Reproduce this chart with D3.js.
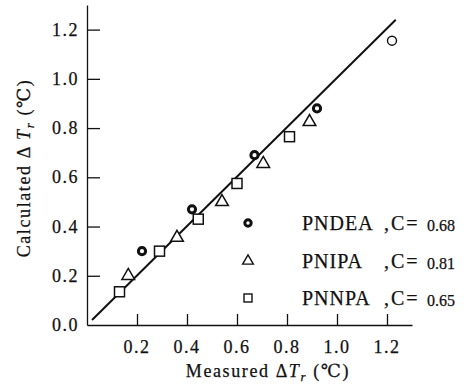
<!DOCTYPE html>
<html>
<head>
<meta charset="utf-8">
<script src="https://cdn.jsdelivr.net/npm/d3@7"></script>
<style>
  body { margin: 0; background: #fff; }
  text { font-family: "Liberation Serif", "DejaVu Serif", serif; fill: #111; stroke: #111; stroke-width: 0.25; }
</style>
</head>
<body>
<script>
// data
const pndeaX = [0.22, 0.42, 0.67, 0.92];
const pndeaY = [0.30, 0.47, 0.69, 0.88];
const pnipaX = [0.165, 0.36, 0.54, 0.705, 0.89];
const pnipaY = [0.20, 0.355, 0.50, 0.655, 0.825];
const pnnpaX = [0.13, 0.29, 0.445, 0.60, 0.81];
const pnnpaY = [0.135, 0.30, 0.43, 0.575, 0.765];
const openX = [1.22];
const openY = [1.155];
const lineX = [0.02, 1.235];
const lineY = [0.02, 1.24];
const xTicks = [0.2, 0.4, 0.6, 0.8, 1.0, 1.2];
const yTicks = [0.0, 0.2, 0.4, 0.6, 0.8, 1.0, 1.2];
const legendNames = ["PNDEA", "PNIPA", "PNNPA"];
const legendC = ["0.68", "0.81", "0.65"];

const svg = d3.select("body").append("svg")
    .attr("width", 470)
    .attr("height", 391);

const x = d3.scaleLinear().domain([0, 1.3]).range([87, 412]);
const y = d3.scaleLinear().domain([0, 1.3]).range([325, 5]);

// eixos
svg.append("g")
    .attr("transform", "translate(0,325)")
    .call(d3.axisTop(x).tickValues(xTicks).tickSizeInner(11).tickSizeOuter(0).tickFormat(""));
svg.append("g")
    .attr("transform", "translate(87,0)")
    .call(d3.axisRight(y).tickValues(yTicks.slice(1)).tickSizeInner(13).tickSizeOuter(0).tickFormat(""));
svg.selectAll(".domain, .tick line")
    .attr("stroke", "#111")
    .attr("stroke-width", 1.3);

// tick labels
svg.append("g").selectAll("text")
    .data(xTicks)
    .join("text")
    .attr("x", d => x(d))
    .attr("y", 353)
    .attr("text-anchor", "middle")
    .attr("font-size", 18)
    .attr("letter-spacing", 1.5)
    .text(d => d.toFixed(1));

svg.append("g").selectAll("text")
    .data(yTicks)
    .join("text")
    .attr("x", 79)
    .attr("y", d => y(d) + 6)
    .attr("text-anchor", "end")
    .attr("font-size", 18)
    .attr("letter-spacing", 1.5)
    .text(d => d.toFixed(1));

// titulos
const xt = svg.append("text")
    .attr("x", 268)
    .attr("y", 377)
    .attr("text-anchor", "middle")
    .attr("font-size", 18)
    .attr("letter-spacing", 1.6);
xt.append("tspan").text("Measured \u0394");
xt.append("tspan").attr("font-style", "italic").text("T");
xt.append("tspan").attr("font-size", 13).attr("font-style", "italic").attr("dy", 4).text("r");
xt.append("tspan").attr("dy", -4).text(" (\u2103)");

const yt = svg.append("text")
    .attr("transform", "translate(30,168) rotate(-90)")
    .attr("text-anchor", "middle")
    .attr("font-size", 18)
    .attr("letter-spacing", 1.6);
yt.append("tspan").text("Calculated \u0394 ");
yt.append("tspan").attr("font-style", "italic").text("T");
yt.append("tspan").attr("font-size", 13).attr("font-style", "italic").attr("dy", 4).text("r");
yt.append("tspan").attr("dy", -4).text(" (\u2103)");

// reta
svg.append("line")
    .attr("x1", x(lineX[0])).attr("y1", y(lineY[0]))
    .attr("x2", x(lineX[1])).attr("y2", y(lineY[1]))
    .attr("stroke", "#111")
    .attr("stroke-width", 2);

// pontos
const tri = d3.symbol().type(d3.symbolTriangle).size(70);

svg.append("g").selectAll("circle")
    .data(d3.range(pndeaX.length))
    .join("circle")
    .attr("cx", i => x(pndeaX[i]))
    .attr("cy", i => y(pndeaY[i]))
    .attr("r", 3.6)
    .attr("fill", "#fff")
    .attr("stroke", "#111")
    .attr("stroke-width", 3);

svg.append("g").selectAll("path")
    .data(d3.range(pnipaX.length))
    .join("path")
    .attr("d", tri)
    .attr("transform", i => `translate(${x(pnipaX[i])},${y(pnipaY[i])})`)
    .attr("fill", "#fff")
    .attr("stroke", "#111")
    .attr("stroke-width", 1.5);

svg.append("g").selectAll("rect")
    .data(d3.range(pnnpaX.length))
    .join("rect")
    .attr("x", i => x(pnnpaX[i]) - 5)
    .attr("y", i => y(pnnpaY[i]) - 5)
    .attr("width", 10)
    .attr("height", 10)
    .attr("fill", "#fff")
    .attr("stroke", "#111")
    .attr("stroke-width", 1.5);

svg.append("g").selectAll("circle")
    .data(d3.range(openX.length))
    .join("circle")
    .attr("cx", i => x(openX[i]))
    .attr("cy", i => y(openY[i]))
    .attr("r", 4.5)
    .attr("fill", "none")
    .attr("stroke", "#111")
    .attr("stroke-width", 1.4);

// legenda
const rows = [223, 261, 298];
const lg = svg.append("g");
lg.append("circle").attr("cx", 248).attr("cy", rows[0]).attr("r", 3.2)
    .attr("fill", "#fff").attr("stroke", "#111").attr("stroke-width", 3);
lg.append("path").attr("d", d3.symbol().type(d3.symbolTriangle).size(50))
    .attr("transform", `translate(248,${rows[1]})`)
    .attr("fill", "none").attr("stroke", "#111").attr("stroke-width", 1.4);
lg.append("rect").attr("x", 244).attr("y", rows[2] - 4).attr("width", 8).attr("height", 8)
    .attr("fill", "none").attr("stroke", "#111").attr("stroke-width", 1.4);

legendNames.forEach((n, i) => {
    lg.append("text").attr("x", 302).attr("y", rows[i] + 7)
        .attr("font-size", 20).attr("letter-spacing", 1).text(n);
    lg.append("text").attr("x", 384).attr("y", rows[i] + 7)
        .attr("font-size", 20).attr("letter-spacing", 2).text(",C=");
    lg.append("text").attr("x", 427).attr("y", rows[i] + 8)
        .attr("font-size", 16).text(legendC[i]);
});
</script>
</body>
</html>
